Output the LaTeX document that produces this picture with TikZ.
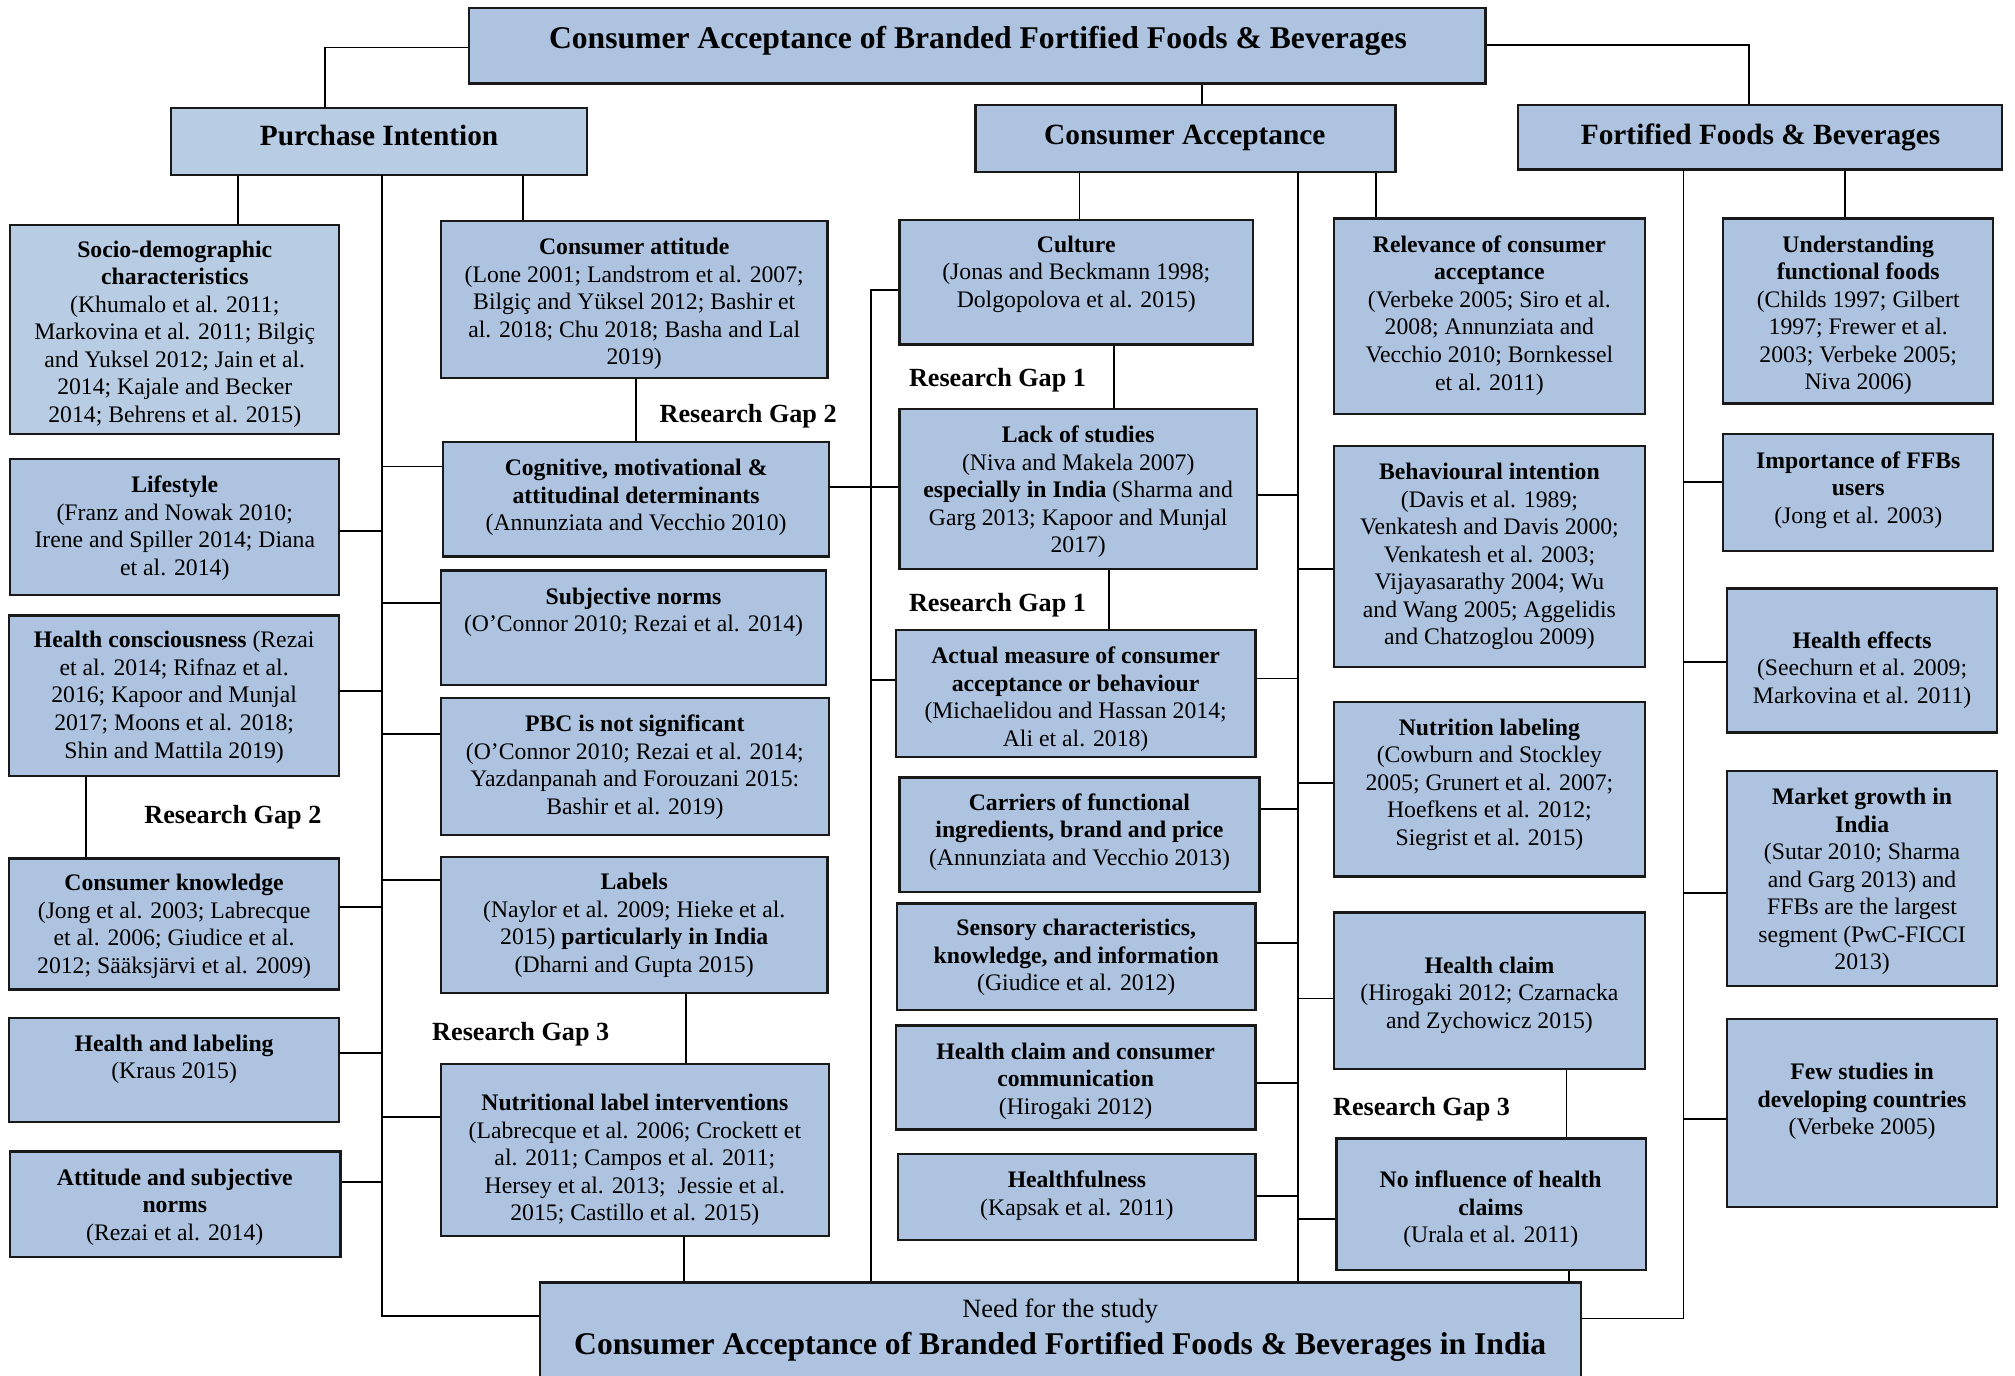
\documentclass[tikz,border=0pt]{standalone}
\usepackage{fontspec}
\setmainfont{Liberation Serif}
\usetikzlibrary{fit,positioning}
\definecolor{boxblue}{HTML}{ADC3E0}
\definecolor{boxlight}{HTML}{B8CCE4}

\begin{document}
\begin{tikzpicture}[x=0.02cm,y=-0.02cm,
    box/.style={draw=black!90,line width=1pt,fill=boxblue,inner sep=0pt},
    lbox/.style={box,fill=boxlight},
    txt/.style={anchor=north,align=center,inner sep=0pt,font=\fontsize{10.5}{12.2}\selectfont},
    head/.style={anchor=base,inner sep=0pt,font=\fontsize{13}{15}\selectfont\bfseries},
    big/.style={anchor=base,inner sep=0pt,font=\fontsize{14}{16}\selectfont\bfseries},
    gap/.style={anchor=base west,inner sep=0pt,font=\fontsize{11.6}{14}\selectfont\bfseries},
    link/.style={line width=0.85pt}]
  \useasboundingbox (0,0) rectangle (1568,1070);

  \begin{scope}
    \node (title)[box,fit={(365,6) (1156,65)}] {};
    \node (pi)[lbox,fit={(133,84) (457,136)}] {};
    \node (ca)[box,fit={(759,82) (1086,134)}] {};
    \node (ffb)[box,fit={(1181,82) (1558,132)}] {};
    \node (need)[box,fit={(420,998) (1230,1095)}] {};

    \node (socio)[lbox,fit={(8,175) (264,338)}] {};
    \node (life)[box,fit={(8,357) (264,463)}] {};
    \node (hcons)[box,fit={(7,479) (264,604)}] {};
    \node (know)[box,fit={(7,668) (264,770)}] {};
    \node (hlab)[box,fit={(7,792) (264,873)}] {};
    \node (attsn)[box,fit={(8,896) (265,978)}] {};

    \node (att)[box,fit={(343,172) (644,294)}] {};
    \node (cog)[box,fit={(345,344) (645,433)}] {};
    \node (norms)[box,fit={(343,444) (643,533)}] {};
    \node (pbc)[box,fit={(343,543) (645,650)}] {};
    \node (labels)[box,fit={(343,667) (644,773)}] {};
    \node (nli)[box,fit={(343,828) (645,962)}] {};

    \node (cult)[box,fit={(700,171) (975,268)}] {};
    \node (lack)[box,fit={(700,318) (978,443)}] {};
    \node (actual)[box,fit={(697,490) (977,589)}] {};
    \node (carr)[box,fit={(700,605) (980,694)}] {};
    \node (sens)[box,fit={(698,703) (977,786)}] {};
    \node (hcc)[box,fit={(697,798) (977,879)}] {};
    \node (hful)[box,fit={(699,898) (977,965)}] {};

    \node (relev)[box,fit={(1038,170) (1280,322)}] {};
    \node (behav)[box,fit={(1038,347) (1280,519)}] {};
    \node (nutr)[box,fit={(1038,546) (1280,682)}] {};
    \node (hclaim)[box,fit={(1038,710) (1280,832)}] {};
    \node (noinf)[box,fit={(1040,886) (1281,988)}] {};

    \node (under)[box,fit={(1341,170) (1551,314)}] {};
    \node (impo)[box,fit={(1341,338) (1551,429)}] {};
    \node (heff)[box,fit={(1344,458) (1554,570)}] {};
    \node (market)[box,fit={(1344,600) (1554,767)}] {};
    \node (few)[box,fit={(1344,793) (1554,939)}] {};
  \end{scope}

  \node (titleT)[big] at (761,38) {Consumer Acceptance of Branded Fortified Foods \& Beverages};
  \node (piT)[head] at (295,113.5) {Purchase Intention};
  \node (caT)[head] at (922,112.5) {Consumer Acceptance};
  \node (ffbT)[head] at (1370,112.5) {Fortified Foods \& Beverages};
  \node (needT)[anchor=base,inner sep=0pt,font=\fontsize{11.7}{14}\selectfont] at (825,1025) {Need for the study};
  \node (needB)[big] at (825,1054) {Consumer Acceptance of Branded Fortified Foods \& Beverages in India};

  \begin{scope}[every node/.style={txt}]
    \node (socioT) at (136,187) {\textbf{Socio-demographic}\\\textbf{characteristics}\\(Khumalo et al. 2011;\\Markovina et al. 2011; Bilgiç\\and Yuksel 2012; Jain et al.\\2014; Kajale and Becker\\2014; Behrens et al. 2015)};
    \node (lifeT) at (136,370) {\textbf{Lifestyle}\\(Franz and Nowak 2010;\\Irene and Spiller 2014; Diana\\et al. 2014)};
    \node (hconsT) at (135.5,491) {\textbf{Health consciousness} (Rezai\\et al. 2014; Rifnaz et al.\\2016; Kapoor and Munjal\\2017; Moons et al. 2018;\\Shin and Mattila 2019)};
    \node (knowT) at (135.5,680) {\textbf{Consumer knowledge}\\(Jong et al. 2003; Labrecque\\et al. 2006; Giudice et al.\\2012; Sääksjärvi et al. 2009)};
    \node (hlabT) at (135.5,805) {\textbf{Health and labeling}\\(Kraus 2015)};
    \node (attsnT) at (136,909) {\textbf{Attitude and subjective}\\\textbf{norms}\\(Rezai et al. 2014)};

    \node (attT) at (493.5,185) {\textbf{Consumer attitude}\\(Lone 2001; Landstrom et al. 2007;\\Bilgiç and Yüksel 2012; Bashir et\\al. 2018; Chu 2018; Basha and Lal\\2019)};
    \node (cogT) at (495,357) {\textbf{Cognitive, motivational \&}\\\textbf{attitudinal determinants}\\(Annunziata and Vecchio 2010)};
    \node (normsT) at (493,457) {\textbf{Subjective norms}\\(O’Connor 2010; Rezai et al. 2014)};
    \node (pbcT) at (494,556) {\textbf{PBC is not significant}\\(O’Connor 2010; Rezai et al. 2014;\\Yazdanpanah and Forouzani 2015:\\Bashir et al. 2019)};
    \node (labelsT) at (493.5,679) {\textbf{Labels}\\(Naylor et al. 2009; Hieke et al.\\2015) \textbf{particularly in India}\\(Dharni and Gupta 2015)};
    \node (nliT) at (494,851) {\textbf{Nutritional label interventions}\\(Labrecque et al. 2006; Crockett et\\al. 2011; Campos et al. 2011;\\Hersey et al. 2013;\ \ Jessie et al.\\2015; Castillo et al. 2015)};

    \node (cultT) at (837.5,183) {\textbf{Culture}\\(Jonas and Beckmann 1998;\\Dolgopolova et al. 2015)};
    \node (lackT) at (839,331) {\textbf{Lack of studies}\\(Niva and Makela 2007)\\\textbf{especially in India} (Sharma and\\Garg 2013; Kapoor and Munjal\\2017)};
    \node (actualT) at (837,503) {\textbf{Actual measure of consumer}\\\textbf{acceptance or behaviour}\\(Michaelidou and Hassan 2014;\\Ali et al. 2018)};
    \node (carrT) at (840,617) {\textbf{Carriers of functional}\\\textbf{ingredients, brand and price}\\(Annunziata and Vecchio 2013)};
    \node (sensT) at (837.5,715) {\textbf{Sensory characteristics,}\\\textbf{knowledge, and information}\\(Giudice et al. 2012)};
    \node (hccT) at (837,811) {\textbf{Health claim and consumer}\\\textbf{communication}\\(Hirogaki 2012)};
    \node (hfulT) at (838,911) {\textbf{Healthfulness}\\(Kapsak et al. 2011)};

    \node (relevT) at (1159,183) {\textbf{Relevance of consumer}\\\textbf{acceptance}\\(Verbeke 2005; Siro et al.\\2008; Annunziata and\\Vecchio 2010; Bornkessel\\et al. 2011)};
    \node (behavT) at (1159,360) {\textbf{Behavioural intention}\\(Davis et al. 1989;\\Venkatesh and Davis 2000;\\Venkatesh et al. 2003;\\Vijayasarathy 2004; Wu\\and Wang 2005; Aggelidis\\and Chatzoglou 2009)};
    \node (nutrT) at (1159,559) {\textbf{Nutrition labeling}\\(Cowburn and Stockley\\2005; Grunert et al. 2007;\\Hoefkens et al. 2012;\\Siegrist et al. 2015)};
    \node (hclaimT) at (1159,744) {\textbf{Health claim}\\(Hirogaki 2012; Czarnacka\\and Zychowicz 2015)};
    \node (noinfT) at (1160,911) {\textbf{No influence of health}\\\textbf{claims}\\(Urala et al. 2011)};

    \node (underT) at (1446,183) {\textbf{Understanding}\\\textbf{functional foods}\\(Childs 1997; Gilbert\\1997; Frewer et al.\\2003; Verbeke 2005;\\Niva 2006)};
    \node (impoT) at (1446,351) {\textbf{Importance of FFBs}\\\textbf{users}\\(Jong et al. 2003)};
    \node (heffT) at (1449,491) {\textbf{Health effects}\\(Seechurn et al. 2009;\\Markovina et al. 2011)};
    \node (marketT) at (1449,613) {\textbf{Market growth in}\\\textbf{India}\\(Sutar 2010; Sharma\\and Garg 2013) and\\FFBs are the largest\\segment (PwC-FICCI\\2013)};
    \node (fewT) at (1449,827) {\textbf{Few studies in}\\\textbf{developing countries}\\(Verbeke 2005)};
  \end{scope}

  \begin{scope}[every node/.style={gap}]
    \node (gap2a) at (513,329) {Research Gap 2};
    \node (gap2b) at (112,641) {Research Gap 2};
    \node (gap1a) at (707,301) {Research Gap 1};
    \node (gap1b) at (707,476) {Research Gap 1};
    \node (gap3a) at (336,810) {Research Gap 3};
    \node (gap3b) at (1037,868) {Research Gap 3};
  \end{scope}

  \coordinate (lsp) at (297,136);
  \coordinate (msp) at (678,226);
  \coordinate (rsp) at (1010,134);
  \coordinate (fsp) at (1310,132);

  \begin{scope}[every path/.style={draw=black,link}]
    \path (title.west |- 0,37) -| (pi.north -| 253,0);
    \path (title.east |- 0,35) -| (ffb.north -| 1361,0);
    \path (title.south -| 935,0) -- (ca.north -| 935,0);

    \path (pi.south -| 185,0) -- (socio.north -| 185,0);
    \path (pi.south -| 407,0) -- (att.north -| 407,0);
    \path (lsp) |- (need.west |- 0,1024);
    \path (life.east |- 0,413) -- (lsp |- 0,413);
    \path (hcons.east |- 0,537.5) -- (lsp |- 0,537.5);
    \path (know.east |- 0,706) -- (lsp |- 0,706);
    \path (hlab.east |- 0,819.5) -- (lsp |- 0,819.5);
    \path (attsn.east |- 0,920) -- (lsp |- 0,920);
    \path (cog.west |- 0,363) -- (lsp |- 0,363);
    \path (norms.west |- 0,469) -- (lsp |- 0,469);
    \path (pbc.west |- 0,571.5) -- (lsp |- 0,571.5);
    \path (labels.west |- 0,685) -- (lsp |- 0,685);
    \path (nli.west |- 0,869) -- (lsp |- 0,869);
    \path (att.south -| 495,0) -- (cog.north -| 495,0);
    \path (hcons.south -| 66.6,0) -- (know.north -| 66.6,0);
    \path (labels.south -| 533.5,0) -- (nli.north -| 533.5,0);
    \path (nli.south -| 532.5,0) -- (need.north -| 532.5,0);
    \path (cog.east |- 0,379) -- (lack.west |- 0,379);

    \path (ca.south -| 840,0) -- (cult.north -| 840,0);
    \path (ca.south -| 1071,0) -- (relev.north -| 1071,0);
    \path (cult.west |- msp) -| (need.north -| msp);
    \path (actual.west |- 0,529.4) -- (msp |- 0,529.4);
    \path (cult.south -| 867,0) -- (lack.north -| 867,0);
    \path (lack.south -| 863,0) -- (actual.north -| 863,0);
    \path (rsp) -- (need.north -| rsp);
    \path (lack.east |- 0,385) -- (rsp |- 0,385);
    \path (actual.east |- 0,528) -- (rsp |- 0,528);
    \path (carr.east |- 0,629.5) -- (rsp |- 0,629.5);
    \path (sens.east |- 0,733.5) -- (rsp |- 0,733.5);
    \path (hcc.east |- 0,842.5) -- (rsp |- 0,842.5);
    \path (hful.east |- 0,931) -- (rsp |- 0,931);
    \path (behav.west |- 0,442.5) -- (rsp |- 0,442.5);
    \path (nutr.west |- 0,609) -- (rsp |- 0,609);
    \path (hclaim.west |- 0,777) -- (rsp |- 0,777);
    \path (noinf.west |- 0,948.5) -- (rsp |- 0,948.5);
    \path (hclaim.south -| 1219,0) -- (noinf.north -| 1219,0);
    \path (noinf.south -| 1221,0) -- (need.north -| 1221,0);

    \path (ffb.south -| 1436,0) -- (under.north -| 1436,0);
    \path (fsp) |- (need.east |- 0,1026);
    \path (impo.west |- 0,375.4) -- (fsp |- 0,375.4);
    \path (heff.west |- 0,515.4) -- (fsp |- 0,515.4);
    \path (market.west |- 0,695) -- (fsp |- 0,695);
    \path (few.west |- 0,871) -- (fsp |- 0,871);
  \end{scope}
\end{tikzpicture}
\end{document}
